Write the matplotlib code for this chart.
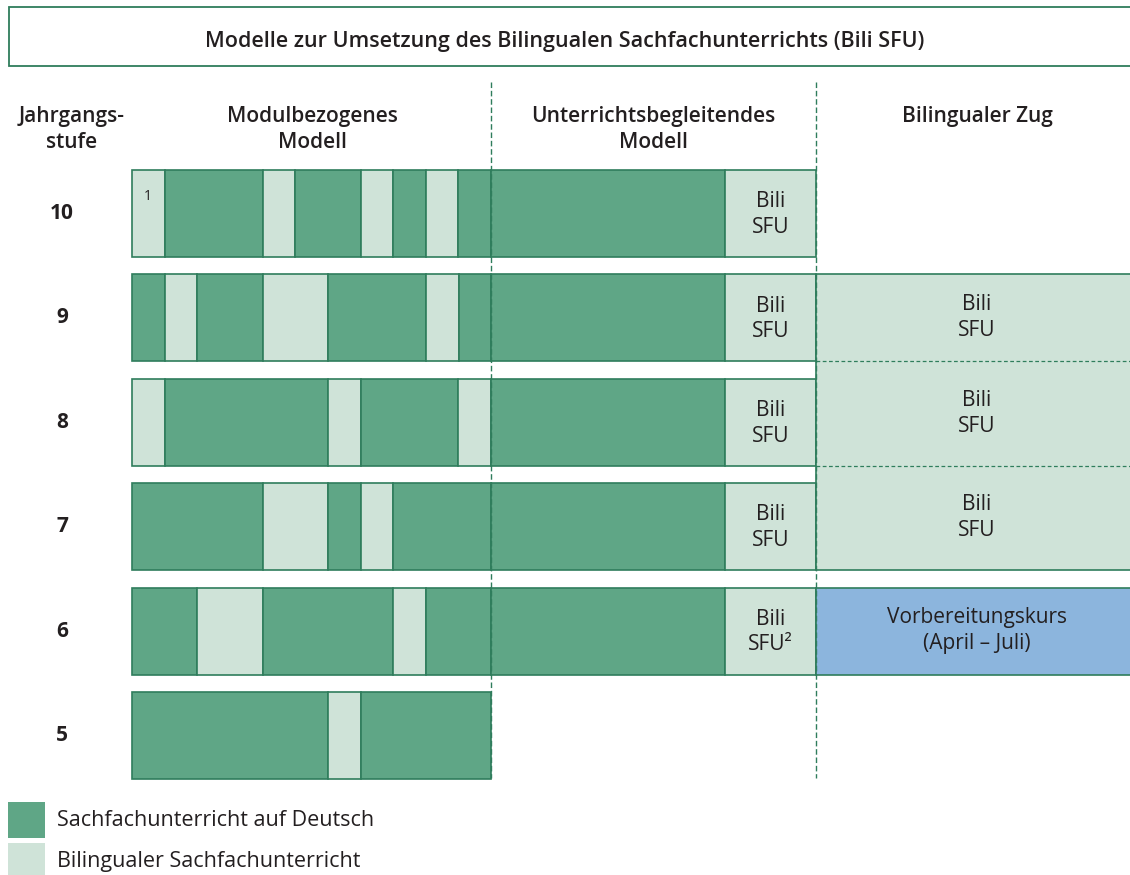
import matplotlib.pyplot as plt
from matplotlib.patches import Rectangle

# grades from top to bottom
grades = ["10", "9", "8", "7", "6", "5"]

# modulbezogenes Modell: (kind, units) per grade, "d" = Deutsch, "b" = bilingual
module_rows = {
    "10": [("b", 1), ("d", 3), ("b", 1), ("d", 2), ("b", 1), ("d", 1), ("b", 1), ("d", 1)],
    "9": [("d", 1), ("b", 1), ("d", 2), ("b", 2), ("d", 3), ("b", 1), ("d", 1)],
    "8": [("b", 1), ("d", 5), ("b", 1), ("d", 3), ("b", 1)],
    "7": [("d", 4), ("b", 2), ("d", 1), ("b", 1), ("d", 3)],
    "6": [("d", 2), ("b", 2), ("d", 4), ("b", 1), ("d", 2)],
    "5": [("d", 6), ("b", 1), ("d", 4)],
}

# unterrichtsbegleitendes Modell: grades that have it, share of Deutsch / Bili
begleit_grades = ["10", "9", "8", "7", "6"]
begleit_labels = {"10": "Bili\nSFU", "9": "Bili\nSFU", "8": "Bili\nSFU",
                  "7": "Bili\nSFU", "6": "Bili\nSFU²"}
begleit_share = [0.72, 0.28]

# bilingualer Zug
zug_bili_grades = ["9", "8", "7"]
zug_vorb_grade = "6"

headers = ["Jahrgangs-\nstufe", "Modulbezogenes\nModell",
           "Unterrichtsbegleitendes\nModell", "Bilingualer Zug"]
title = "Modelle zur Umsetzung des Bilingualen Sachfachunterrichts (Bili SFU)"
legend_labels = ["Sachfachunterricht auf Deutsch", "Bilingualer Sachfachunterricht"]

DARK = "#5fa686"
LIGHT = "#cfe3d8"
EDGE = "#2f7d5c"
BLUE = "#8cb5dd"
TXT = "#231f20"
FONT = ["Open Sans", "DejaVu Sans"]

fig = plt.figure(figsize=(11.3, 8.75), dpi=100)
ax = fig.add_axes([0, 0, 1, 1])
ax.set_xlim(0, 1130)
ax.set_ylim(875, 0)
ax.axis("off")

x_mod = 132
unit = 32.65
x_beg = x_mod + 11 * unit
x_zug = 816
row_top = 170
row_step = 104.4
row_h = 87


def top_of(g):
    return row_top + grades.index(g) * row_step


# title box
ax.add_patch(Rectangle((9, 7), 1140, 59, facecolor="white", edgecolor=EDGE,
                       lw=1.3, clip_on=True))
ax.text(565, 41, title, ha="center", va="center", fontsize=15.5,
        fontweight="semibold", family=FONT, color=TXT)

# column headers
for label, xc in zip(headers, [72, 312, 653, 977]):
    ax.text(xc, 106, label, ha="center", va="top", fontsize=15,
            fontweight="semibold", family=FONT, color=TXT, linespacing=1.3)

# dashed column separators
for xv in [x_beg, x_zug]:
    ax.plot([xv, xv], [82, 778], color=EDGE, lw=1, ls=(0, (4, 2)))

# module bars
for g in grades:
    y0 = top_of(g)
    x = x_mod
    for kind, n in module_rows[g]:
        ax.add_patch(Rectangle((x, y0), n * unit, row_h,
                               facecolor=DARK if kind == "d" else LIGHT,
                               edgecolor=EDGE, lw=1.2))
        x += n * unit
    ax.text(62, y0 + row_h / 2, g, ha="center", va="center", fontsize=15,
            fontweight="bold", family=FONT, color=TXT)

ax.text(x_mod + 16, top_of("10") + 26, "1", ha="center", va="center",
        fontsize=10, family=FONT, color=TXT)

# begleitendes Modell
width_beg = x_zug - x_beg
for g in begleit_grades:
    y0 = top_of(g)
    w_d = begleit_share[0] * width_beg
    w_b = begleit_share[1] * width_beg
    ax.add_patch(Rectangle((x_beg, y0), w_d, row_h, facecolor=DARK,
                           edgecolor=EDGE, lw=1.2))
    ax.add_patch(Rectangle((x_beg + w_d, y0), w_b, row_h, facecolor=LIGHT,
                           edgecolor=EDGE, lw=1.2))
    ax.text(x_beg + w_d + w_b / 2, y0 + row_h / 2 + 1, begleit_labels[g],
            ha="center", va="center", fontsize=15, family=FONT, color=TXT,
            linespacing=1.3)

# bilingualer Zug
z_top = top_of(zug_bili_grades[0])
z_bot = top_of(zug_bili_grades[-1]) + row_h
ax.add_patch(Rectangle((x_zug, z_top), 400, z_bot - z_top, facecolor=LIGHT,
                       edgecolor=EDGE, lw=1.2))
for g in zug_bili_grades[:-1]:
    yb = top_of(g) + row_h
    ax.plot([x_zug, 1130], [yb, yb], color=EDGE, lw=0.9, ls=(0, (3, 2)))
for i, g in enumerate(zug_bili_grades):
    yc = top_of(g) + row_h / 2 - (0 if i == 0 else 9)
    ax.text(977, yc, "Bili\nSFU", ha="center", va="center", fontsize=15,
            family=FONT, color=TXT, linespacing=1.3)

y6 = top_of(zug_vorb_grade)
ax.add_patch(Rectangle((x_zug, y6), 400, row_h, facecolor=BLUE,
                       edgecolor=EDGE, lw=1.2))
ax.text(977, y6 + row_h / 2 - 1, "Vorbereitungskurs\n(April – Juli)",
        ha="center", va="center", fontsize=15, family=FONT, color=TXT,
        linespacing=1.3)

# legend
for (label, col), yl in zip(zip(legend_labels, [DARK, LIGHT]), [802, 843]):
    ax.add_patch(Rectangle((8, yl), 37, 36, facecolor=col, edgecolor="none"))
    ax.text(57, yl + 19, label, ha="left", va="center", fontsize=15.5,
            family=FONT, color=TXT)

fig.savefig("out.png", dpi=100)
